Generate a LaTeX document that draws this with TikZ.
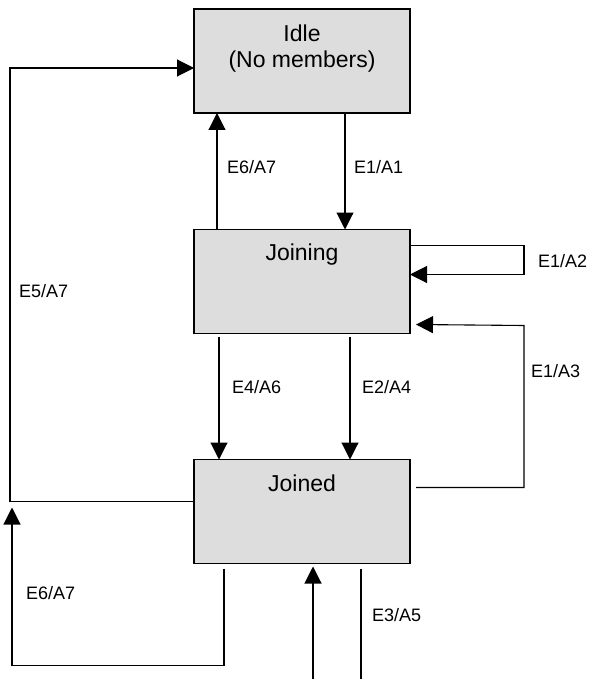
\documentclass[tikz,border=0pt]{standalone}
\usepackage{fontspec}
\setmainfont{Liberation Sans}
\usetikzlibrary{arrows.meta,calc}
\definecolor{boxgray}{HTML}{DDDDDD}
\begin{document}
\begin{tikzpicture}[x=1pt,y=-1pt,
  state/.style={draw=black,fill=boxgray,line width=1.2pt,minimum width=216pt,minimum height=104pt,inner sep=0pt,outer sep=0pt},
  stext/.style={font=\fontsize{23pt}{26pt}\selectfont,align=center,anchor=base,inner sep=0pt},
  lbl/.style={font=\fontsize{18pt}{21pt}\selectfont,anchor=base west,inner sep=0pt},
  conn/.style={line width=1.1pt,draw=black},
  arr/.style={conn,-{Triangle[length=17pt,width=17pt]}}]
\useasboundingbox (0,0) rectangle (592,679);
% states
\node[state] (idle) at (302,61) {};
\node[state] (joining) at (302,281.5) {};
\node[state] (joined) at (302,511.5) {};
\node[stext] (idletxt) at (302,68) {Idle\\(No members)};
\node[stext] (joiningtxt) at (302,260) {Joining};
\node[stext] (joinedtxt) at (302,491) {Joined};
% free ends
\coordinate (inS) at (313,679);
\coordinate (outE) at (361,679);
% connectors
\draw[arr] ($(idle.south west)+(151,0)$) -- ($(joining.north west)+(151,0)$);
\draw[arr] ($(joining.north west)+(23,0)$) -- ($(idle.south west)+(23,0)$);
\draw[arr] ($(joining.south west)+(25,3)$) -- ($(joined.north west)+(25,0)$);
\draw[arr] ($(joining.south west)+(156,3)$) -- ($(joined.north west)+(156,0)$);
\draw[arr] ($(joining.north east)+(0,16)$) -- ++(114,0) -- ++(0,29) -- ($(joining.north east)+(0,45)$);
\draw[arr] ($(joined.north east)+(6,28)$) -- ++(108,0) -- ++(0,-162) -- ($(joining.south east)+(6,-9)$);
\draw[arr] ($(joined.north west)+(0,42)$) -- ++(-184,0) |- ($(idle.north west)+(0,59)$);
\draw[arr] ($(joined.south west)+(30,5)$) -- ++(0,97) -| ($(joined.north west)+(-182,48)$);
\draw[arr] (inS) -- ($(joined.south west)+(119,3)$);
\draw[conn] ($(joined.south west)+(167,5)$) -- (outE);
% labels
\node[lbl] (l61) at (227,173) {E6/A7};
\node[lbl] (l11) at (354,173) {E1/A1};
\node[lbl] (l12) at (538,267) {E1/A2};
\node[lbl] (l57) at (19,297) {E5/A7};
\node[lbl] (l46) at (232,393) {E4/A6};
\node[lbl] (l24) at (362,393) {E2/A4};
\node[lbl] (l13) at (531,377) {E1/A3};
\node[lbl] (l62) at (26,599) {E6/A7};
\node[lbl] (l35) at (372,621) {E3/A5};
\end{tikzpicture}
\end{document}
